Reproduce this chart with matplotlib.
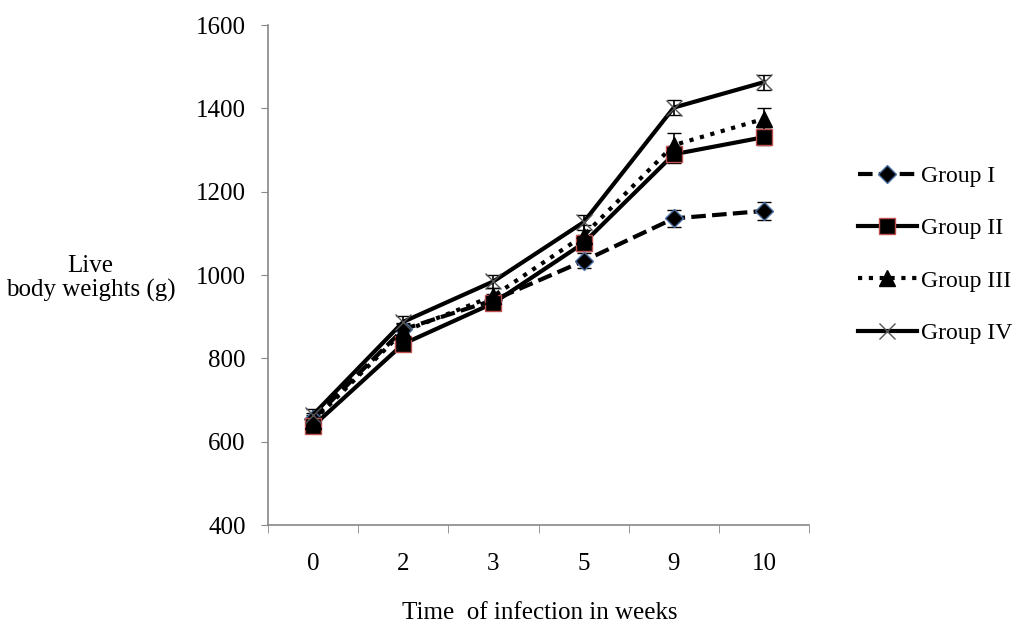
import matplotlib
matplotlib.use("Agg")
import matplotlib.pyplot as plt
from matplotlib.lines import Line2D
import numpy as np

# Données
weeks = ["0", "2", "3", "5", "9", "10"]
group_1 = [655, 870, 940, 1034, 1136, 1154]
group_2 = [638, 835, 933, 1077, 1290, 1331]
group_3 = [650, 865, 950, 1095, 1312, 1375]
group_4 = [665, 888, 985, 1127, 1402, 1463]
err_1 = [15, 15, 15, 18, 20, 22]
err_2 = [15, 15, 15, 20, 20, 20]
err_3 = [15, 18, 18, 25, 28, 25]
err_4 = [15, 15, 15, 18, 18, 18]
labels = ["Group I", "Group II", "Group III", "Group IV"]

plt.rcParams["font.family"] = ["Liberation Serif", "DejaVu Serif"]
FS = 18

fig = plt.figure(figsize=(10.19, 6.26), dpi=100)
ax = fig.add_axes([0.263, 0.161, 0.531, 0.799])

x = np.arange(len(weeks))
styles = [
    dict(ls=(0, (3.5, 1.5)), marker="D", ms=9, mfc="black", mec="#4a6fa0", mew=1.0),
    dict(ls="-", marker="s", ms=11, mfc="black", mec="#c0504d", mew=1.0),
    dict(ls=(0, (1, 1.6)), marker="^", ms=11, mfc="black", mec="black", mew=1.0),
    dict(ls="-", marker="x", ms=11, mfc="none", mec="#555555", mew=1.0),
]
series = [group_1, group_2, group_3, group_4]
errors = [err_1, err_2, err_3, err_4]

for ys, es, st in zip(series, errors, styles):
    ax.errorbar(x, ys, yerr=es, color="black", ecolor="black", elinewidth=1.2,
                capsize=5, capthick=1.2, lw=3, **st)

ax.set_xlim(-0.5, len(weeks) - 0.5)
ax.set_ylim(400, 1600)
ax.set_yticks(range(400, 1601, 200))
ax.set_xticks(x)
ax.set_xticklabels(weeks)
ax.set_xticks(np.arange(-0.5, len(weeks)), minor=True)
ax.tick_params(axis="x", which="major", length=0, pad=20, labelsize=FS)
ax.tick_params(axis="x", which="minor", length=6, color="#888888", direction="out")
ax.tick_params(axis="y", length=5, color="#888888", labelsize=FS, pad=11)

for side in ("top", "right"):
    ax.spines[side].set_visible(False)
for side in ("left", "bottom"):
    ax.spines[side].set_color("#888888")
    ax.spines[side].set_linewidth(1.2)

fig.text(0.089, 0.555, "Live\nbody weights (g)", ha="center", va="center",
         fontsize=FS, linespacing=1.15)
fig.text(0.53, 0.02, "Time  of infection in weeks", ha="center", va="center",
         fontsize=FS)

# Légende sans barres d'erreur
handles = [Line2D([], [], color="black", lw=3, **st) for st in styles]
ax.legend(handles, labels, loc="center left", bbox_to_anchor=(0.830, 0.593),
          bbox_transform=fig.transFigure, frameon=False, fontsize=17,
          handlelength=2.5, labelspacing=1.3, handletextpad=0.2, borderpad=0)

fig.savefig("out.png", dpi=100)
